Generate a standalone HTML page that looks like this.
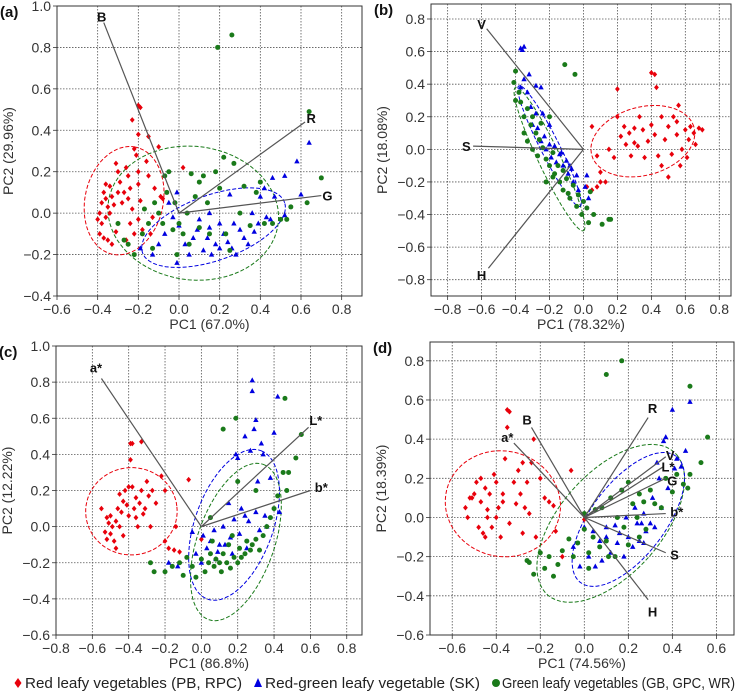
<!DOCTYPE html>
<html><head><meta charset="utf-8"><style>
body{margin:0;background:#fff;}
svg{display:block;font-family:"Liberation Sans",sans-serif;}
</style></head><body>
<svg id="fig" width="740" height="694" viewBox="0 0 740 694" xmlns="http://www.w3.org/2000/svg"></svg>
<script>
// ---------- DATA ----------
const panelLetters = ["(a)","(b)","(c)","(d)"];
const xLabels = ["PC1 (67.0%)","PC1 (78.32%)","PC1 (86.8%)","PC1 (74.56%)"];
const yLabels = ["PC2 (29.96%)","PC2 (18.08%)","PC2 (12.22%)","PC2 (18.39%)"];
const xTicksA = [-0.6,-0.4,-0.2,0.0,0.2,0.4,0.6,0.8];
const yTicksA = [-0.4,-0.2,0.0,0.2,0.4,0.6,0.8,1.0];
const xTicksB = [-0.8,-0.6,-0.4,-0.2,0.0,0.2,0.4,0.6,0.8];
const yTicksB = [-0.8,-0.6,-0.4,-0.2,0.0,0.2,0.4,0.6,0.8];
const xTicksC = [-0.8,-0.6,-0.4,-0.2,0.0,0.2,0.4,0.6,0.8];
const yTicksC = [-0.6,-0.4,-0.2,0.0,0.2,0.4,0.6,0.8,1.0];
const xTicksD = [-0.6,-0.4,-0.2,0.0,0.2,0.4,0.6];
const yTicksD = [-0.6,-0.4,-0.2,0.0,0.2,0.4,0.6,0.8];

const redA = [[-0.38,0.05],[-0.37,0.1],[-0.36,0.07],[-0.35,0.03],[-0.34,0.0],[-0.36,-0.02],[-0.38,-0.05],[-0.39,-0.1],[-0.37,-0.12],[-0.35,-0.13],[-0.33,-0.15],[-0.4,-0.03],[-0.39,0.0],[-0.36,0.14],[-0.34,0.13],[-0.31,0.24],[-0.3,0.2],[-0.29,0.15],[-0.27,0.1],[-0.28,0.05],[-0.3,-0.05],[-0.31,-0.09],[-0.26,0.22],[-0.25,0.18],[-0.24,0.12],[-0.25,0.07],[-0.23,0.02],[-0.24,-0.05],[-0.22,-0.1],[-0.26,-0.13],[-0.21,0.28],[-0.22,0.31],[-0.2,0.2],[-0.2,0.14],[-0.19,0.06],[-0.2,-0.03],[-0.18,-0.08],[-0.2,0.52],[-0.19,0.51],[-0.23,0.45],[-0.2,0.38],[-0.15,0.37],[-0.16,0.25],[-0.15,0.18],[-0.12,0.12],[-0.1,0.32],[-0.09,0.08],[-0.08,0.07],[-0.13,-0.02],[-0.14,-0.1],[0.02,0.22],[-0.3,0.1],[-0.33,0.08],[-0.32,0.04]];
const greenA = [[-0.3,-0.05],[-0.27,-0.13],[-0.25,-0.15],[-0.22,-0.2],[-0.18,-0.1],[-0.15,-0.05],[-0.12,0.05],[-0.1,0.0],[-0.08,-0.05],[-0.07,0.18],[-0.05,0.2],[-0.06,0.1],[-0.03,-0.08],[-0.01,-0.2],[0.0,-0.05],[0.02,-0.1],[0.04,0.0],[0.06,0.19],[0.08,0.08],[0.1,-0.07],[0.12,0.18],[0.14,0.05],[0.15,-0.1],[0.18,0.2],[0.2,0.12],[0.22,0.27],[0.23,-0.1],[0.25,-0.18],[0.27,0.24],[0.3,0.0],[0.32,0.13],[0.35,-0.06],[0.38,0.1],[0.4,0.15],[0.46,-0.05],[0.5,-0.03],[0.53,-0.03],[0.55,0.03],[-0.17,0.02],[-0.13,-0.17],[0.05,-0.15],[0.19,0.8],[0.26,0.86],[0.64,0.49],[0.7,0.17],[0.63,0.05],[0.42,-0.05],[0.1,0.15],[-0.02,0.05]];
const blueA = [[-0.19,-0.17],[-0.13,-0.2],[-0.1,-0.15],[-0.07,-0.1],[-0.05,0.05],[-0.03,-0.02],[-0.01,0.1],[0.0,-0.06],[0.03,-0.15],[0.05,-0.2],[0.07,-0.12],[0.09,-0.08],[0.1,-0.03],[0.12,-0.18],[0.14,-0.12],[0.15,-0.07],[0.16,-0.2],[0.18,-0.15],[0.2,-0.17],[0.2,-0.05],[0.22,-0.1],[0.24,-0.14],[0.25,0.09],[0.27,-0.05],[0.28,-0.2],[0.3,-0.08],[0.32,-0.12],[0.34,-0.15],[0.36,0.0],[0.37,-0.09],[0.39,-0.05],[0.4,0.08],[0.42,0.12],[0.43,-0.02],[0.45,-0.03],[0.46,0.17],[0.47,0.08],[0.52,-0.01],[0.52,0.18],[0.58,0.25],[0.6,0.09],[0.64,0.34],[-0.01,-0.24],[0.15,0.0],[0.26,-0.17]];

const redB = [[0.02,-0.23],[0.05,-0.25],[0.08,-0.23],[0.1,-0.2],[0.13,-0.2],[0.1,-0.14],[0.08,-0.04],[0.05,0.14],[0.15,0.0],[0.18,-0.05],[0.2,0.2],[0.22,0.08],[0.24,0.14],[0.25,0.03],[0.27,0.1],[0.28,-0.04],[0.3,0.04],[0.32,0.02],[0.33,0.2],[0.35,0.12],[0.36,-0.05],[0.38,0.05],[0.4,0.47],[0.42,0.46],[0.43,0.38],[0.4,0.15],[0.42,0.09],[0.44,-0.04],[0.46,0.2],[0.48,0.06],[0.5,0.14],[0.52,-0.03],[0.53,0.2],[0.55,0.09],[0.56,0.27],[0.57,-0.1],[0.58,0.0],[0.6,0.12],[0.62,0.06],[0.63,0.14],[0.65,0.1],[0.66,0.03],[0.68,0.13],[0.7,0.12],[0.61,-0.05],[0.5,-0.17],[0.46,-0.1],[0.2,0.37],[0.3,0.13],[0.55,0.17]];
const greenB = [[-0.4,0.48],[-0.41,0.41],[-0.38,0.35],[-0.37,0.29],[-0.4,0.3],[-0.35,0.2],[-0.33,0.25],[-0.31,0.15],[-0.33,0.05],[-0.3,0.0],[-0.28,0.1],[-0.26,0.06],[-0.27,-0.04],[-0.24,0.01],[-0.22,-0.06],[-0.2,0.2],[-0.25,0.16],[-0.2,-0.1],[-0.18,-0.02],[-0.17,-0.15],[-0.15,-0.1],[-0.14,-0.2],[-0.12,-0.13],[-0.12,-0.25],[-0.1,-0.18],[-0.08,-0.3],[-0.06,-0.22],[-0.04,-0.35],[-0.03,-0.28],[-0.01,-0.4],[0.0,-0.32],[0.02,-0.36],[0.03,-0.45],[0.06,-0.4],[0.11,-0.46],[0.15,-0.43],[0.16,-0.43],[-0.11,0.52],[-0.05,0.46],[-0.22,-0.2],[-0.18,-0.17],[-0.09,-0.27],[0.04,-0.26],[-0.3,0.2],[-0.35,0.1]];
const blueB = [[-0.37,0.62],[-0.35,0.63],[-0.36,0.61],[-0.35,0.43],[-0.32,0.46],[-0.28,0.39],[-0.25,0.38],[-0.33,0.35],[-0.31,0.26],[-0.28,0.22],[-0.3,0.15],[-0.27,0.13],[-0.25,0.05],[-0.23,0.08],[-0.22,0.0],[-0.2,0.03],[-0.19,-0.05],[-0.17,0.02],[-0.16,-0.08],[-0.14,-0.03],[-0.12,-0.1],[-0.1,-0.07],[-0.09,-0.15],[-0.07,-0.12],[-0.06,-0.2],[-0.04,-0.16],[-0.03,-0.25],[0.02,-0.16],[0.03,-0.3],[0.01,-0.23],[-0.37,0.38],[-0.24,0.22],[-0.2,0.15],[-0.13,-0.02],[-0.08,-0.1]];

const redC = [[-0.52,0.05],[-0.51,0.02],[-0.5,0.06],[-0.53,-0.03],[-0.52,-0.07],[-0.5,-0.04],[-0.49,0.0],[-0.48,-0.08],[-0.47,0.03],[-0.46,0.1],[-0.45,0.18],[-0.44,0.08],[-0.43,-0.05],[-0.42,0.2],[-0.41,0.12],[-0.4,0.06],[-0.39,0.37],[-0.39,0.46],[-0.38,0.46],[-0.38,0.22],[-0.37,0.1],[-0.36,0.16],[-0.35,0.0],[-0.34,0.13],[-0.33,0.2],[-0.32,0.07],[-0.31,0.1],[-0.3,0.25],[-0.29,0.17],[-0.28,0.0],[-0.27,0.2],[-0.25,0.13],[-0.33,0.47],[-0.22,0.28],[-0.2,0.2],[-0.2,-0.08],[-0.18,-0.12],[-0.15,-0.13],[-0.14,0.0],[-0.12,-0.14],[-0.07,0.26],[0.0,-0.07],[-0.55,0.1],[-0.47,-0.12],[-0.45,0.0],[-0.43,0.14],[-0.4,0.22],[-0.36,0.05]];
const greenC = [[-0.28,-0.2],[-0.26,-0.25],[-0.2,-0.25],[-0.16,-0.22],[-0.12,-0.2],[-0.1,-0.27],[-0.08,-0.17],[-0.05,-0.22],[-0.03,-0.28],[0.0,-0.18],[0.02,-0.25],[0.04,-0.2],[0.05,-0.15],[0.07,-0.22],[0.08,-0.18],[0.1,-0.2],[0.11,-0.25],[0.12,-0.15],[0.14,-0.2],[0.15,-0.1],[0.16,-0.23],[0.18,-0.17],[0.2,-0.2],[0.21,-0.12],[0.22,-0.17],[0.24,-0.15],[0.25,-0.08],[0.27,-0.13],[0.28,-0.1],[0.3,-0.07],[0.32,-0.13],[0.34,-0.05],[0.36,0.0],[0.38,0.05],[0.4,0.1],[0.42,0.17],[0.45,0.3],[0.47,0.2],[0.48,0.3],[0.52,0.38],[0.55,0.51],[0.46,0.71],[0.19,0.6],[0.12,0.54],[0.05,0.05],[0.2,0.25],[0.3,0.2],[0.06,-0.08],[0.17,-0.05]];
const blueC = [[-0.05,-0.03],[-0.03,-0.15],[0.0,-0.2],[0.01,-0.05],[0.03,-0.12],[0.05,-0.08],[0.07,-0.02],[0.09,-0.14],[0.1,-0.1],[0.12,0.0],[0.13,-0.1],[0.15,0.13],[0.16,-0.06],[0.18,0.04],[0.19,0.4],[0.2,0.38],[0.21,-0.04],[0.22,0.1],[0.24,0.06],[0.25,-0.12],[0.26,0.03],[0.27,0.42],[0.28,0.81],[0.29,0.54],[0.3,0.59],[0.3,0.08],[0.31,0.25],[0.32,-0.02],[0.33,0.46],[0.34,0.4],[0.35,0.06],[0.36,0.0],[0.38,0.27],[0.4,0.52],[0.42,0.72],[0.43,0.08],[0.24,0.5],[0.28,0.75],[0.17,-0.15],[0.08,-0.18],[-0.18,-0.2],[-0.13,-0.22]];

const redD = [[-0.54,0.05],[-0.53,0.0],[-0.52,0.1],[-0.51,0.1],[-0.5,0.12],[-0.49,0.18],[-0.48,-0.05],[-0.47,0.08],[-0.46,-0.08],[-0.45,0.15],[-0.45,-0.1],[-0.44,0.04],[-0.43,0.12],[-0.42,-0.05],[-0.41,0.22],[-0.4,0.0],[-0.39,0.05],[-0.38,-0.1],[-0.37,0.12],[-0.36,0.3],[-0.35,0.55],[-0.34,0.54],[-0.35,0.46],[-0.34,-0.03],[-0.32,0.18],[-0.31,0.07],[-0.3,0.24],[-0.29,0.12],[-0.28,-0.08],[-0.27,0.05],[-0.26,0.18],[-0.25,0.02],[-0.24,0.28],[-0.23,0.4],[-0.22,-0.1],[-0.2,0.2],[-0.18,0.1],[-0.16,0.08],[-0.14,0.06],[-0.13,-0.07],[-0.1,-0.2],[-0.06,0.24],[0.0,-0.01],[-0.47,0.2],[-0.44,0.0],[-0.4,0.18],[-0.28,0.28],[-0.37,0.08]];
const greenD = [[-0.26,-0.22],[-0.25,-0.23],[-0.23,-0.29],[-0.2,-0.18],[-0.18,-0.26],[-0.16,-0.2],[-0.14,-0.3],[-0.12,-0.24],[-0.1,-0.17],[-0.07,-0.11],[-0.05,-0.2],[-0.03,-0.13],[0.0,-0.06],[0.02,-0.18],[0.04,-0.1],[0.05,0.04],[0.07,-0.15],[0.08,0.05],[0.1,-0.12],[0.12,0.1],[0.14,-0.2],[0.15,0.0],[0.17,0.14],[0.18,-0.05],[0.2,0.18],[0.2,-0.14],[0.22,0.07],[0.24,0.0],[0.25,0.12],[0.27,0.08],[0.28,-0.06],[0.3,0.14],[0.32,0.07],[0.35,0.05],[0.37,0.2],[0.4,0.13],[0.42,0.22],[0.45,0.17],[0.47,0.15],[0.48,0.22],[0.53,0.28],[0.56,0.41],[0.48,0.67],[0.17,0.8],[0.1,0.73],[0.0,0.02],[0.11,-0.2],[0.25,-0.1],[0.02,-0.26]];
const blueD = [[-0.05,-0.15],[-0.02,-0.25],[0.0,-0.05],[0.02,-0.2],[0.04,-0.07],[0.05,-0.25],[0.07,-0.12],[0.1,-0.1],[0.12,-0.18],[0.14,-0.04],[0.15,-0.13],[0.16,-0.08],[0.18,-0.2],[0.19,0.0],[0.2,-0.1],[0.22,-0.15],[0.23,0.05],[0.24,-0.03],[0.25,-0.12],[0.26,-0.03],[0.27,0.02],[0.28,-0.07],[0.3,-0.03],[0.31,0.1],[0.32,-0.05],[0.33,0.28],[0.34,0.2],[0.35,0.05],[0.36,0.39],[0.37,0.41],[0.38,0.15],[0.4,0.55],[0.41,0.25],[0.42,0.3],[0.44,0.26],[0.46,0.34],[0.48,0.59],[0.1,-0.05],[0.27,-0.13],[0.08,-0.22]];

// loading vectors: [name, x, y, labelX, labelY]
const loadA = [["B",-0.37,0.92,-0.38,0.95],["R",0.62,0.44,0.65,0.46],["G",0.7,0.085,0.73,0.085]];
const loadB = [["V",-0.57,0.74,-0.6,0.77],["S",-0.65,0.02,-0.69,0.02],["H",-0.56,-0.73,-0.6,-0.77]];
const loadC = [["a*",-0.55,0.82,-0.58,0.88],["L*",0.59,0.55,0.63,0.59],["b*",0.6,0.2,0.66,0.22]];
const loadD = [["R",0.29,0.51,0.31,0.56],["B",-0.24,0.46,-0.26,0.5],["a*",-0.32,0.38,-0.35,0.41],["V",0.37,0.31,0.39,0.32],["L*",0.36,0.26,0.38,0.26],["G",0.37,0.2,0.4,0.19],["b*",0.37,0.02,0.42,0.03],["S",0.37,-0.18,0.41,-0.19],["H",0.29,-0.42,0.31,-0.48]];

// ellipses: [cx, cy, ux, uy, vx, vy] (red, green, blue)
const ellA = [[-0.27,0.06,0.05,0.26,0.19,-0.03],[0.07,0.0,0.41,0.05,-0.09,0.32],[0.17,-0.07,0.35,0.12,-0.05,0.15]];
const ellB = [[0.35,0.05,0.3,0.09,-0.06,0.2],[-0.2,-0.06,0.2,-0.44,0.06,0.027],[-0.2,0.02,0.18,-0.37,0.05,0.025]];
const ellC = [[-0.385,0.085,0.25,0.03,-0.03,0.24],[0.19,-0.085,0.15,0.43,0.2,-0.07],[0.18,0.01,0.15,0.41,0.2,-0.08]];
const ellD = [[-0.37,0.07,0.26,0.02,-0.03,0.27],[0.12,-0.03,0.3,0.35,0.15,-0.2],[0.2,-0.01,0.22,0.32,0.13,-0.12]];

// ---------- RENDER ----------
const NS="http://www.w3.org/2000/svg";
const svg=document.getElementById('fig');
function mk(tag,attrs,parent){const e=document.createElementNS(NS,tag);for(const k in attrs)e.setAttribute(k,attrs[k]);(parent||svg).appendChild(e);return e;}
const RED="#e8000b",BLUE="#0000e0",GREEN="#1a7a1a";
const panels=[
 {id:"a",L:57,R:362,T:6,B:296,x0:-0.6,x1:0.9,y0:-0.4,y1:1.0,xt:xTicksA,yt:yTicksA,red:redA,green:greenA,blue:blueA,load:loadA,ell:ellA},
 {id:"b",L:431,R:731,T:4,B:296,x0:-0.898,x1:0.869,y0:-0.9,y1:0.892,xt:xTicksB,yt:yTicksB,red:redB,green:greenB,blue:blueB,load:loadB,ell:ellB},
 {id:"c",L:56,R:362,T:346,B:635,x0:-0.8,x1:0.884,y0:-0.6,y1:1.0,xt:xTicksC,yt:yTicksC,red:redC,green:greenC,blue:blueC,load:loadC,ell:ellC},
 {id:"d",L:430,R:734,T:342,B:635,x0:-0.701,x1:0.68,y0:-0.6,y1:0.896,xt:xTicksD,yt:yTicksD,red:redD,green:greenD,blue:blueD,load:loadD,ell:ellD}
];
function fmt(v){const s=Math.abs(v).toFixed(1);return (v<-1e-9?"\u2212":"")+s;}
panels.forEach((p,i)=>{
 const sx=v=>p.L+(v-p.x0)/(p.x1-p.x0)*(p.R-p.L);
 const sy=v=>p.B-(v-p.y0)/(p.y1-p.y0)*(p.B-p.T);
 const g=mk('g',{});
 
 
 p.xt.forEach(t=>{const l=mk('line',{x1:sx(t),x2:sx(t),y1:p.T,y2:p.B,stroke:'#555','stroke-width':0.8,'stroke-dasharray':'1.5,1.5'},g);
  
  mk('line',{x1:sx(t),x2:sx(t),y1:p.B,y2:p.B+4,stroke:'#333','stroke-width':0.8},g);
  const tx=mk('text',{x:sx(t),y:p.B+18,'text-anchor':'middle','font-size':14,fill:'#333'},g);tx.textContent=fmt(t);
  });
 p.yt.forEach(t=>{const l=mk('line',{x1:p.L,x2:p.R,y1:sy(t),y2:sy(t),stroke:'#555','stroke-width':0.8,'stroke-dasharray':'1.5,1.5'},g);
  
  mk('line',{x1:p.L-4,x2:p.L,y1:sy(t),y2:sy(t),stroke:'#333','stroke-width':0.8},g);
  const tx=mk('text',{x:p.L-6,y:sy(t)+5,'text-anchor':'end','font-size':14,fill:'#333'},g);tx.textContent=fmt(t);
  });
 const ecol=[RED,GREEN,BLUE];
 p.ell.forEach((e,k)=>{let d="";for(let s=0;s<=72;s++){const a=s/72*2*Math.PI;const x=e[0]+e[2]*Math.cos(a)+e[4]*Math.sin(a);const y=e[1]+e[3]*Math.cos(a)+e[5]*Math.sin(a);d+=(s?"L":"M")+sx(x).toFixed(1)+","+sy(y).toFixed(1);}
  const el=mk('path',{d:d,fill:'none',stroke:ecol[k],'stroke-width':1,'stroke-dasharray':'4,2'},g);
  });
 p.red.forEach(pt=>{const x=sx(pt[0]),y=sy(pt[1]);const m=mk('path',{d:`M${x},${y-2.8}L${x+2.4},${y}L${x},${y+2.8}L${x-2.4},${y}Z`,fill:RED},g);
  });
 p.blue.forEach(pt=>{const x=sx(pt[0]),y=sy(pt[1]);const m=mk('path',{d:`M${x},${y-3}L${x+2.7},${y+2}L${x-2.7},${y+2}Z`,fill:BLUE},g);
  });
 p.green.forEach(pt=>{const m=mk('circle',{cx:sx(pt[0]),cy:sy(pt[1]),r:2.5,fill:GREEN},g);
  });
 p.load.forEach(ld=>{const l=mk('line',{x1:sx(0),y1:sy(0),x2:sx(ld[1]),y2:sy(ld[2]),stroke:'#555','stroke-width':1.2},g);
  
  const t=mk('text',{x:sx(ld[3]),y:sy(ld[4])+5,'text-anchor':'middle','font-size':13,'font-weight':'bold',fill:'#111'},g);t.textContent=ld[0];
  });
 const f=mk('rect',{x:p.L,y:p.T,width:p.R-p.L,height:p.B-p.T,fill:'none',stroke:'#333','stroke-width':1},g);
 
 const xl=mk('text',{x:(p.L+p.R)/2,y:p.B+33,'text-anchor':'middle','font-size':14,fill:'#333'},g);xl.textContent=xLabels[i];
 
 const yx=p.L-44,yy=(p.T+p.B)/2;
 const yl=mk('text',{x:yx,y:yy,'text-anchor':'middle','font-size':14,fill:'#333',transform:`rotate(-90 ${yx} ${yy})`},g);yl.textContent=yLabels[i];
 
 const pl=mk('text',{x:p.L-57,y:p.T+11,'font-size':15,'font-weight':'bold',fill:'#111'},g);pl.textContent=panelLetters[i];
 
});
const lg=mk('g',{});


const m1=mk('path',{d:'M18,678L21.5,683L18,688L14.5,683Z',fill:RED},lg);

const t1=mk('text',{x:25,y:688,'font-size':15,fill:'#222',textLength:217,lengthAdjust:'spacingAndGlyphs'},lg);t1.textContent="Red leafy vegetables (PB, RPC)";

const m2=mk('path',{d:'M258,678L262,687L254,687Z',fill:BLUE},lg);

const t2=mk('text',{x:265,y:688,'font-size':15,fill:'#222',textLength:215,lengthAdjust:'spacingAndGlyphs'},lg);t2.textContent="Red-green leafy vegetable (SK)";

const m3=mk('circle',{cx:496,cy:683,r:4,fill:GREEN},lg);

const t3=mk('text',{x:502,y:688,'font-size':15,fill:'#222',textLength:233,lengthAdjust:'spacingAndGlyphs'},lg);t3.textContent="Green leafy vegetables (GB, GPC, WR)";

</script>
</body></html>
